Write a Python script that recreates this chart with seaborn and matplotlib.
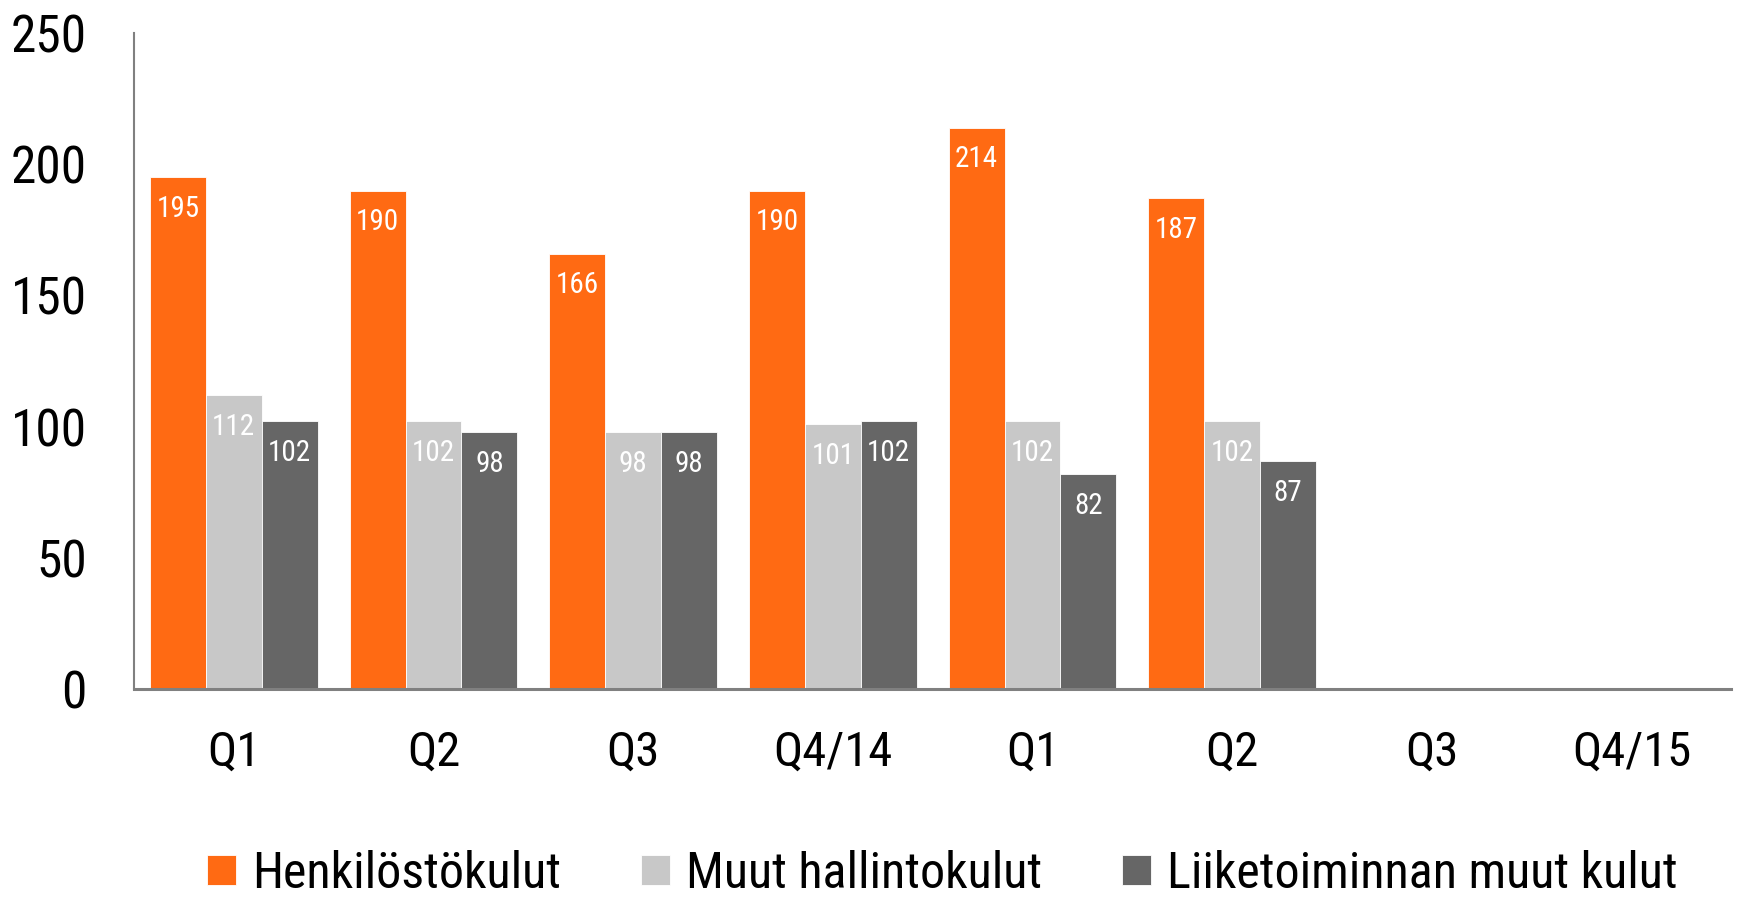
import pandas as pd
import seaborn as sns
import matplotlib.pyplot as plt

# data
quarters = ["Q1/14", "Q2/14", "Q3/14", "Q4/14", "Q1/15", "Q2/15", "Q3/15", "Q4/15"]
tick_labels = ["Q1", "Q2", "Q3", "Q4/14", "Q1", "Q2", "Q3", "Q4/15"]
series = ["Henkilöstökulut", "Muut hallintokulut", "Liiketoiminnan muut kulut"]
henkilosto = [195, 190, 166, 190, 214, 187]
hallinto = [112, 102, 98, 101, 102, 102]
muut = [102, 98, 98, 102, 82, 87]
colors = ["#FF6A13", "#C8C8C8", "#666666"]

rows = []
for i, q in enumerate(quarters[:len(henkilosto)]):
    rows.append((q, series[0], henkilosto[i]))
    rows.append((q, series[1], hallinto[i]))
    rows.append((q, series[2], muut[i]))
df = pd.DataFrame(rows, columns=["quarter", "series", "value"])

sns.set_style("white")
plt.rcParams["font.family"] = ["Roboto Condensed", "Roboto", "DejaVu Sans"]
plt.rcParams["text.color"] = "black"
plt.rcParams["xtick.color"] = "black"
plt.rcParams["ytick.color"] = "black"

fig = plt.figure(figsize=(17.42, 8.97), dpi=100)
ax = fig.add_axes([0.0769, 0.232, 0.917, 0.731])

sns.barplot(
    data=df, x="quarter", y="value", hue="series",
    order=quarters, hue_order=series, palette=colors,
    width=0.84, gap=0, dodge=True, ax=ax,
    edgecolor="white", linewidth=0.6, saturation=1,
)

for cont in ax.containers:
    ax.bar_label(cont, fmt="%d", padding=-33, color="white", fontsize=21)

ax.set_xlim(-0.5, 7.5)
ax.set_ylim(0, 250)
ax.set_yticks([0, 50, 100, 150, 200, 250])
ax.set_xticks(range(len(quarters)))
ax.set_xticklabels(tick_labels)
ax.tick_params(axis="y", length=0, pad=34, labelsize=37)
ax.tick_params(axis="x", length=0, pad=29, labelsize=35)
ax.set_xlabel("")
ax.set_ylabel("")

sns.despine(ax=ax)
ax.spines["left"].set_color("#808080")
ax.spines["left"].set_linewidth(1.5)
ax.spines["bottom"].set_color("#808080")
ax.spines["bottom"].set_linewidth(2.2)

handles, labels = ax.get_legend_handles_labels()
ax.get_legend().remove()
fig.legend(
    handles, labels, loc="center", bbox_to_anchor=(0.541, 0.026),
    ncol=3, frameon=False, fontsize=36,
    handlelength=0.58, handleheight=0.55, handletextpad=0.32,
    columnspacing=1.6,
)

fig.savefig("out.png", dpi=100)
